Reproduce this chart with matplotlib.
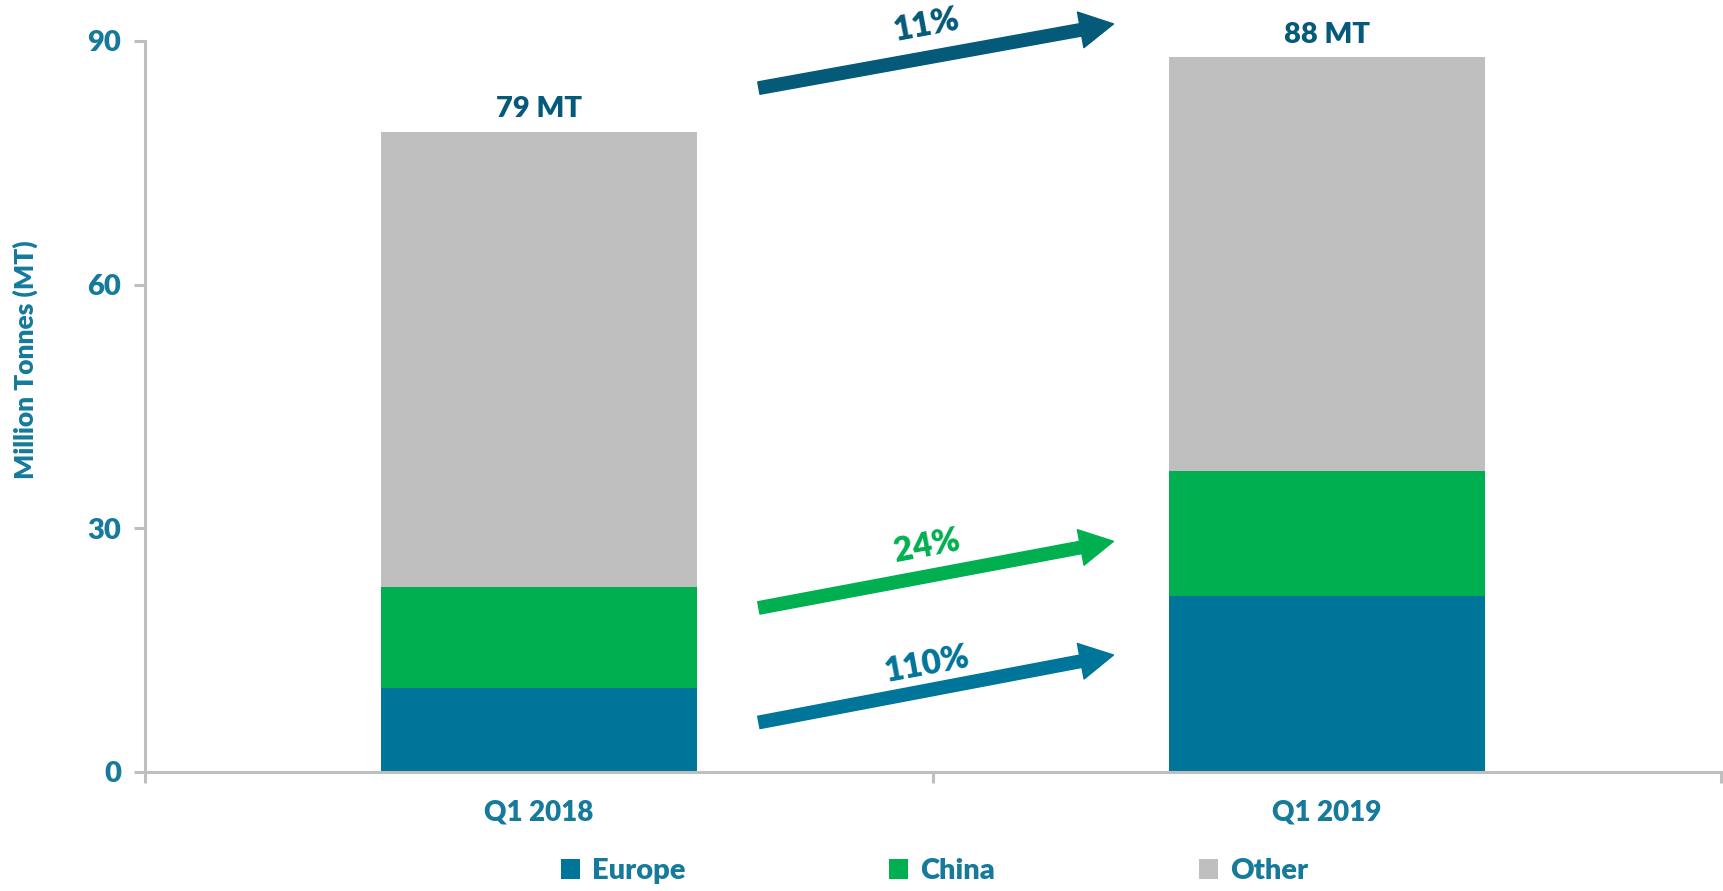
import matplotlib.pyplot as plt
import numpy as np

# data
quarters = ['Q1 2018', 'Q1 2019']
europe = [10.3, 21.7]
china = [12.5, 15.3]
other = [56.0, 51.0]
totals = ['79 MT', '88 MT']
growth = ['110%', '24%', '11%']

c_europe = '#00759A'
c_china = '#00B050'
c_other = '#BFBFBF'
c_text = '#157A9B'
c_dark = '#045A78'

plt.rcParams['font.family'] = ['Lato', 'DejaVu Sans']
plt.rcParams['font.weight'] = 'heavy'

fig = plt.figure(figsize=(17.24, 8.91), dpi=100)
ax = fig.add_axes([0.0841, 0.1336, 0.9142, 0.8204])

x = np.arange(len(quarters))
w = 0.4
b1 = ax.bar(x, europe, w, color=c_europe, label='Europe')
b2 = ax.bar(x, china, w, bottom=europe, color=c_china, label='China')
bot = np.array(europe) + np.array(china)
b3 = ax.bar(x, other, w, bottom=bot, color=c_other, label='Other')

# total labels
tot = bot + np.array(other)
for xi, t, lab in zip(x, tot, totals):
    ax.annotate(lab, (xi, t), xytext=(0, 7), textcoords='offset points',
                ha='center', va='bottom', fontsize=21, color=c_dark)

ax.set_xlim(-0.5, 1.5)
ax.set_ylim(0, 90)
ax.set_yticks([0, 30, 60, 90])
ax.set_xticks(x)
ax.set_xticklabels(quarters)
ax.set_xticks([-0.5, 0.5, 1.5], minor=True)
ax.tick_params(axis='x', which='major', length=0, pad=20, labelsize=20, labelcolor=c_text)
ax.tick_params(axis='x', which='minor', length=8, width=2.2, color=c_other)
ax.tick_params(axis='y', length=8, width=2.2, color=c_other, labelsize=21,
               labelcolor=c_text, pad=9)

for s in ['top', 'right']:
    ax.spines[s].set_visible(False)
for s in ['left', 'bottom']:
    ax.spines[s].set_color(c_other)
    ax.spines[s].set_linewidth(2.2)

ax.set_ylabel('Million Tonnes (MT)', fontsize=19, color=c_text, fontweight='heavy')
ax.yaxis.set_label_coords(-0.068, 0.564)

# growth arrows
arrows = [((0.279, 6.1), (0.729, 14.4), c_europe, growth[0], (0.492, 13.2)),
          ((0.279, 20.2), (0.729, 28.4), c_china, growth[1], (0.492, 27.8)),
          ((0.279, 84.2), (0.729, 92.1), c_dark, growth[2], (0.492, 91.9))]
for start, end, col, lab, pos in arrows:
    ax.annotate('', xy=end, xytext=start, annotation_clip=False,
                arrowprops=dict(arrowstyle='simple,head_length=1.2,head_width=1.3,tail_width=0.45',
                                color=col, shrinkA=0, shrinkB=0, mutation_scale=20))
    ax.text(pos[0], pos[1], lab, rotation=10.5, ha='center', va='center',
            fontsize=24, color=col, clip_on=False)

fig.legend(handles=[b1, b2, b3], loc='center', bbox_to_anchor=(0.542, 0.022), ncol=3,
           frameon=False, fontsize=21, labelcolor=c_text, handlelength=0.65,
           handleheight=0.65, handletextpad=0.4, columnspacing=7.0)

fig.savefig('out.png', dpi=100)
